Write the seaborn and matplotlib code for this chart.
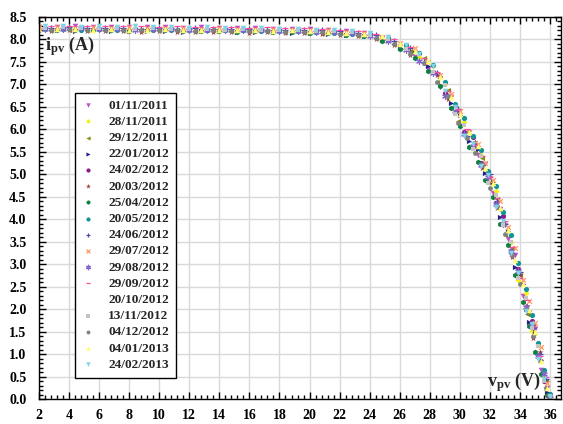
import matplotlib
matplotlib.use("Agg")
import matplotlib.pyplot as plt
import numpy as np
import pandas as pd
import seaborn as sns
from matplotlib.ticker import MultipleLocator, AutoMinorLocator, FormatStrFormatter

# ---------------- data ----------------
dates = ["01/11/2011", "28/11/2011", "29/12/2011", "22/01/2012", "24/02/2012",
         "20/03/2012", "25/04/2012", "20/05/2012", "24/06/2012", "29/07/2012",
         "29/08/2012", "29/09/2012", "20/10/2012", "13/11/2012", "04/12/2012",
         "04/01/2013", "24/02/2013"]

# voltage sampling grids (V)
v_grid_a = [2.0, 3.2, 4.4, 5.6, 6.8, 8.0, 9.2, 10.4, 11.6, 12.8, 14.0, 15.2, 16.4, 17.6, 18.8,
            20.0, 21.2, 22.4, 23.6, 24.8, 26.0, 27.0, 27.9, 28.7, 29.4, 30.0, 30.6, 31.2, 31.7,
            32.2, 32.7, 33.2, 33.7, 34.2, 34.6, 35.0, 35.4, 35.8]
v_grid_b = [2.4, 3.6, 4.8, 6.0, 7.2, 8.4, 9.6, 10.8, 12.0, 13.2, 14.4, 15.6, 16.8, 18.0, 19.2,
            20.4, 21.6, 22.8, 24.0, 25.2, 26.4, 27.3, 28.2, 29.0, 29.7, 30.3, 30.9, 31.4, 31.9,
            32.4, 32.9, 33.4, 33.9, 34.4, 34.8, 35.2, 35.6, 36.0]
v_grid_c = [2.8, 4.0, 5.2, 6.4, 7.6, 8.8, 10.0, 11.2, 12.4, 13.6, 14.8, 16.0, 17.2, 18.4, 19.6,
            20.8, 22.0, 23.2, 24.4, 25.6, 26.7, 27.6, 28.5, 29.2, 29.9, 30.5, 31.0, 31.5, 32.0,
            32.5, 33.0, 33.5, 34.0, 34.5, 34.9, 35.3, 35.7, 35.95]
series_grid = ["a", "b", "c", "a", "b", "c", "a", "b", "c", "a", "b", "c", "a", "b", "c", "a", "b"]

# currents (A) per measurement date
i_01_11_2011 = [8.28, 8.28, 8.29, 8.28, 8.27, 8.28, 8.27, 8.27, 8.26, 8.27, 8.26, 8.25, 8.26, 8.24, 8.24, 8.23, 8.21, 8.19,
                8.14, 8.04, 7.84, 7.62, 7.35, 6.95, 6.73, 6.07, 5.95, 5.43, 5.22, 4.58, 4.23, 3.57, 3.20, 2.30, 1.92, 1.55, 0.65, 0.25]
i_28_11_2011 = [8.24, 8.25, 8.23, 8.24, 8.23, 8.24, 8.22, 8.22, 8.23, 8.21, 8.21, 8.22, 8.20, 8.20, 8.19, 8.18, 8.16, 8.13,
                8.10, 8.03, 7.87, 7.60, 7.41, 7.00, 6.40, 6.17, 5.59, 5.43, 4.83, 4.63, 3.90, 3.50, 2.65, 2.35, 1.52, 1.20, 0.50, 0.05]
i_29_12_2011 = [8.22, 8.21, 8.22, 8.21, 8.22, 8.20, 8.21, 8.20, 8.19, 8.20, 8.19, 8.18, 8.18, 8.17, 8.17, 8.15, 8.14, 8.10,
                8.04, 7.91, 7.74, 7.58, 7.05, 6.88, 6.18, 5.95, 5.50, 5.37, 4.80, 4.45, 3.65, 3.36, 2.77, 1.90, 1.63, 0.85, 0.40, 0.06]
i_22_01_2012 = [8.20, 8.21, 8.19, 8.20, 8.19, 8.18, 8.19, 8.19, 8.17, 8.18, 8.18, 8.16, 8.17, 8.16, 8.15, 8.15, 8.12, 8.10,
                8.07, 7.98, 7.81, 7.73, 7.40, 7.19, 6.58, 6.32, 5.73, 5.56, 5.02, 4.83, 4.05, 3.74, 2.93, 2.55, 1.72, 1.45, 0.87, 0.15]
i_24_02_2012 = [8.26, 8.25, 8.26, 8.24, 8.25, 8.24, 8.25, 8.23, 8.24, 8.22, 8.23, 8.22, 8.21, 8.22, 8.20, 8.20, 8.17, 8.16,
                8.12, 7.98, 7.82, 7.69, 7.28, 6.80, 6.55, 5.95, 5.82, 5.25, 5.03, 4.36, 4.07, 3.30, 2.90, 2.00, 1.74, 0.95, 0.40, 0.08]
i_20_03_2012 = [8.19, 8.20, 8.18, 8.19, 8.18, 8.17, 8.18, 8.17, 8.16, 8.17, 8.16, 8.15, 8.16, 8.14, 8.14, 8.13, 8.11, 8.07,
                8.01, 7.88, 7.66, 7.47, 7.20, 6.68, 6.40, 5.82, 5.72, 5.15, 4.95, 4.25, 3.90, 3.16, 2.75, 2.08, 1.36, 1.05, 0.25, 0.08]
i_25_04_2012 = [8.21, 8.22, 8.20, 8.21, 8.20, 8.19, 8.20, 8.21, 8.18, 8.19, 8.18, 8.17, 8.18, 8.16, 8.17, 8.15, 8.14, 8.11,
                8.08, 7.97, 7.79, 7.58, 7.30, 6.97, 6.48, 6.07, 5.60, 5.28, 4.88, 4.50, 3.90, 3.42, 2.75, 2.15, 1.62, 1.05, 0.55, 0.10]
i_20_05_2012 = [8.23, 8.24, 8.22, 8.23, 8.22, 8.23, 8.21, 8.21, 8.22, 8.20, 8.20, 8.21, 8.19, 8.19, 8.18, 8.17, 8.15, 8.13,
                8.10, 8.04, 7.88, 7.71, 7.43, 7.05, 6.57, 6.25, 5.85, 5.55, 5.08, 4.73, 4.15, 3.65, 3.02, 2.45, 1.87, 1.25, 0.65, 0.12]
i_24_06_2012 = [8.26, 8.27, 8.25, 8.25, 8.26, 8.24, 8.25, 8.24, 8.25, 8.23, 8.23, 8.24, 8.22, 8.22, 8.21, 8.20, 8.18, 8.14,
                8.09, 7.96, 7.81, 7.49, 7.25, 6.75, 6.45, 5.85, 5.68, 5.20, 5.00, 4.40, 3.90, 3.23, 2.83, 1.95, 1.58, 1.00, 0.45, 0.04]
i_29_07_2012 = [8.27, 8.28, 8.26, 8.27, 8.26, 8.27, 8.25, 8.26, 8.25, 8.24, 8.25, 8.24, 8.23, 8.24, 8.22, 8.22, 8.20, 8.17,
                8.15, 8.06, 7.93, 7.80, 7.50, 7.22, 6.78, 6.40, 5.95, 5.68, 5.25, 4.88, 4.40, 3.82, 3.35, 2.65, 2.17, 1.70, 1.15, 0.35]
i_29_08_2012 = [8.24, 8.24, 8.25, 8.23, 8.24, 8.22, 8.23, 8.23, 8.21, 8.22, 8.21, 8.20, 8.21, 8.19, 8.19, 8.17, 8.16, 8.14,
                8.08, 7.96, 7.77, 7.53, 7.25, 6.75, 6.40, 5.90, 5.62, 5.21, 4.93, 4.33, 3.90, 3.30, 2.85, 2.05, 1.62, 0.95, 0.55, 0.02]
i_29_09_2012 = [8.30, 8.31, 8.29, 8.30, 8.29, 8.30, 8.28, 8.29, 8.27, 8.28, 8.27, 8.26, 8.27, 8.25, 8.25, 8.24, 8.21, 8.18,
                8.12, 8.02, 7.84, 7.58, 7.27, 6.85, 6.45, 6.00, 5.65, 5.40, 4.95, 4.47, 3.95, 3.38, 2.70, 2.20, 1.63, 0.95, 0.50, 0.10]
i_20_10_2012 = [8.25, 8.26, 8.24, 8.25, 8.24, 8.25, 8.23, 8.24, 8.23, 8.22, 8.23, 8.22, 8.21, 8.22, 8.20, 8.20, 8.18, 8.15,
                8.12, 8.03, 7.88, 7.68, 7.42, 7.05, 6.62, 6.25, 5.80, 5.50, 5.05, 4.70, 4.10, 3.65, 3.00, 2.45, 1.82, 1.40, 0.70, 0.22]
i_13_11_2012 = [8.26, 8.27, 8.25, 8.26, 8.25, 8.24, 8.25, 8.23, 8.24, 8.23, 8.22, 8.23, 8.22, 8.21, 8.21, 8.19, 8.18, 8.16,
                8.11, 8.02, 7.79, 7.67, 7.27, 6.98, 6.35, 6.10, 5.57, 5.41, 4.81, 4.53, 3.87, 3.50, 2.70, 2.25, 1.57, 1.17, 0.40, 0.06]
i_04_12_2012 = [8.22, 8.23, 8.21, 8.22, 8.21, 8.20, 8.21, 8.20, 8.19, 8.20, 8.18, 8.19, 8.18, 8.17, 8.17, 8.16, 8.13, 8.10,
                8.03, 7.91, 7.68, 7.48, 7.05, 6.75, 6.15, 5.80, 5.48, 5.20, 4.70, 4.30, 3.68, 3.20, 2.55, 2.00, 1.40, 0.85, 0.25, 0.02]
i_04_01_2013 = [8.23, 8.23, 8.24, 8.22, 8.23, 8.22, 8.22, 8.23, 8.21, 8.21, 8.22, 8.20, 8.20, 8.19, 8.20, 8.18, 8.16, 8.14,
                8.12, 8.07, 7.91, 7.75, 7.53, 7.17, 6.73, 6.34, 5.93, 5.63, 5.15, 4.80, 4.25, 3.77, 3.10, 2.55, 1.97, 1.50, 0.85, 0.25]
i_24_02_2013 = [8.29, 8.30, 8.28, 8.29, 8.28, 8.29, 8.27, 8.28, 8.26, 8.27, 8.26, 8.25, 8.26, 8.24, 8.24, 8.22, 8.21, 8.18,
                8.14, 8.05, 7.88, 7.68, 7.41, 6.85, 6.50, 5.85, 5.67, 5.18, 4.98, 4.28, 3.95, 3.25, 2.80, 1.95, 1.67, 0.90, 0.45, 0.05]

currents = [i_01_11_2011, i_28_11_2011, i_29_12_2011, i_22_01_2012, i_24_02_2012, i_20_03_2012,
            i_25_04_2012, i_20_05_2012, i_24_06_2012, i_29_07_2012, i_29_08_2012, i_29_09_2012,
            i_20_10_2012, i_13_11_2012, i_04_12_2012, i_04_01_2013, i_24_02_2013]

x_ticks = list(range(2, 37, 2))
y_ticks = [0.0, 0.5, 1.0, 1.5, 2.0, 2.5, 3.0, 3.5, 4.0, 4.5, 5.0, 5.5, 6.0, 6.5, 7.0, 7.5, 8.0, 8.5]

# ---------------- styles ----------------
colors = ["#C44FC4", "#F2F20A", "#8A8A10", "#22228C", "#8A1A8A", "#A0403C", "#0F8040", "#119494",
          "#4A4AA8", "#FF9A60", "#8466D0", "#FF4AA0", "#FFFFFF", "#C4C4C4", "#808080", "#FFFF70",
          "#7FD4E6"]
markers = ["v", "D", "<", ">", "o", "*", "h", "o", "+", "x", (6, 2, 0), "_", "o", "s", "o", "^", "v"]
sizes = [16, 9, 14, 14, 14, 22, 16, 14, 16, 12, 16, 16, 14, 12, 12, 16, 16]

grids = {"a": v_grid_a, "b": v_grid_b, "c": v_grid_c}

# ---------------- figure ----------------
sns.set_style("ticks")
plt.rcParams["font.family"] = ["Liberation Serif", "DejaVu Serif"]
plt.rcParams["font.weight"] = "bold"
plt.rcParams["mathtext.fontset"] = "custom"
plt.rcParams["mathtext.rm"] = "Liberation Serif:bold"
plt.rcParams["mathtext.it"] = "Liberation Serif:bold"
plt.rcParams["mathtext.bf"] = "Liberation Serif:bold"

fig = plt.figure(figsize=(5.63, 4.24), dpi=100)
ax = fig.add_axes([39 / 563, 25 / 424, 522 / 563, 382 / 424])

frames = []
for k, (d, cur) in enumerate(zip(dates, currents)):
    frames.append(pd.DataFrame({"v": grids[series_grid[k]], "i": cur, "date": d}))
df = pd.concat(frames, ignore_index=True)

line_markers = {"+", "x", "_", (6, 2, 0)}
for k, d in enumerate(dates):
    sub = df[df["date"] == d]
    kw = dict(x="v", y="i", data=sub, ax=ax, color=colors[k], marker=markers[k],
              s=sizes[k], label=d, zorder=(0.9 if colors[k] == "#FFFFFF" else 2 + k * 0.01))
    if markers[k] in line_markers:
        kw["linewidth"] = 0.9
    else:
        kw["linewidth"] = 0
    sns.scatterplot(**kw)

ax.set_xlim(2, 36.73)
ax.set_ylim(0, 8.5)
ax.set_xticks(x_ticks)
ax.set_yticks(y_ticks)
ax.yaxis.set_major_formatter(FormatStrFormatter("%.1f"))
ax.xaxis.set_minor_locator(AutoMinorLocator(5))
ax.yaxis.set_minor_locator(AutoMinorLocator(5))
ax.tick_params(which="both", direction="in", top=True, right=True, colors="black",
               labelsize=10, width=1)
ax.tick_params(which="major", length=5)
ax.tick_params(which="minor", length=3)
ax.tick_params(axis="y", which="major", pad=9)
ax.tick_params(axis="x", which="major", pad=7)
for lab in ax.get_xticklabels() + ax.get_yticklabels():
    lab.set_fontweight("bold")
ax.grid(True, which="major", color="#D9D9D9", linewidth=1.0)
ax.set_axisbelow(True)
for sp in ax.spines.values():
    sp.set_color("black")
    sp.set_linewidth(1.0)
ax.set_xlabel("")
ax.set_ylabel("")

ax.text(0.012, 0.925, r"$\mathrm{i}_{\mathrm{pv}}$ (A)", transform=ax.transAxes,
        fontsize=13, fontweight="bold", ha="left", va="center")
ax.text(0.858, 0.045, r"$\mathrm{v}_{\mathrm{pv}}$ (V)", transform=ax.transAxes,
        fontsize=13, fontweight="bold", ha="left", va="center")

leg = ax.legend(loc="upper left", bbox_to_anchor=(0.069, 0.802), borderaxespad=0,
                frameon=True, fancybox=False, edgecolor="black", framealpha=1,
                prop={"family": "Liberation Serif", "weight": "bold", "size": 9.6},
                labelspacing=0.29, handletextpad=1.0, borderpad=0.5, markerscale=0.8,
                handlelength=1.0)
leg.get_frame().set_linewidth(1.0)

fig.savefig("out.png", dpi=100)
